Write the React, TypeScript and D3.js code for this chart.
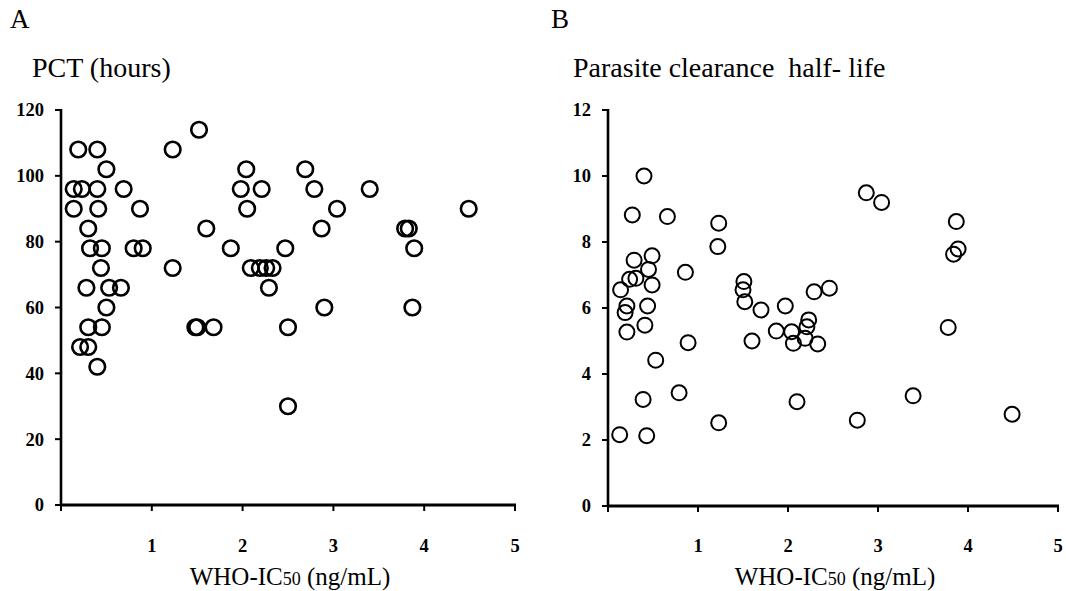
import React from "react";
import * as d3 from "d3";

// Panel A: PCT (hours) vs WHO-IC50
const pctIC50 = [
  0.19, 0.4, 0.5, 0.14, 0.23, 0.4, 0.69, 0.14, 0.41, 0.87, 0.3, 0.32, 0.45, 0.8, 0.9, 0.44,
  0.28, 0.53, 0.66, 0.5, 0.3, 0.45, 0.21, 0.3, 0.4, 1.23, 1.52, 1.23, 1.6, 1.87, 1.48, 1.5,
  1.68, 2.04, 1.98, 2.21, 2.05, 2.09, 2.19, 2.26, 2.33, 2.29, 2.69, 2.79, 3.04, 2.87, 2.47,
  2.9, 2.5, 2.5, 3.4, 4.49, 3.79, 3.83, 3.89, 3.87,
];
const pctHours = [
  108, 108, 102, 96, 96, 96, 96, 90, 90, 90, 84, 78, 78, 78, 78, 72,
  66, 66, 66, 60, 54, 54, 48, 48, 42, 108, 114, 72, 84, 78, 54, 54,
  54, 102, 96, 96, 90, 72, 72, 72, 72, 66, 102, 96, 90, 84, 78,
  60, 54, 30, 96, 90, 84, 84, 78, 60,
];

// Panel B: parasite clearance half-life vs WHO-IC50
const halfLifeIC50 = [
  0.4, 0.27, 0.66, 1.23, 1.22, 0.29, 0.49, 0.45, 0.86, 0.24, 0.31, 0.49, 0.14, 0.21, 0.19,
  0.21, 0.44, 0.41, 0.53, 0.89, 0.39, 0.79, 0.13, 0.43, 1.23, 1.51, 1.5, 1.52, 1.7, 1.6,
  1.97, 1.87, 2.04, 2.06, 2.1, 2.29, 2.46, 2.23, 2.21, 2.19, 2.33, 3.78, 2.77, 3.39, 4.49,
  2.87, 3.04, 3.87, 3.89, 3.84,
];
const halfLifeHours = [
  10.0, 8.82, 8.77, 8.57, 7.86, 7.45, 7.58, 7.17, 7.08, 6.87, 6.9, 6.7, 6.55, 6.06, 5.86,
  5.27, 6.06, 5.48, 4.42, 4.95, 3.23, 3.43, 2.16, 2.13, 2.52, 6.8, 6.55, 6.19, 5.94, 5.0,
  6.06, 5.3, 5.28, 4.93, 3.16, 6.49, 6.6, 5.64, 5.43, 5.08, 4.91, 5.41, 2.6, 3.34, 2.78,
  9.49, 9.2, 8.62, 7.79, 7.63,
];

const xTicks = [0, 1, 2, 3, 4, 5];
const xTickLabels = ["", "1", "2", "3", "4", "5"];
const pctTicks = [0, 20, 40, 60, 80, 100, 120];
const halfLifeTicks = [0, 2, 4, 6, 8, 10, 12];

const serif = "'Liberation Serif', 'Times New Roman', serif";

type PanelProps = {
  letter: string;
  title: string;
  xs: number[];
  ys: number[];
  yTicks: number[];
  yMax: number;
  x0: number;
  x1: number;
  yTop: number;
  yBottom: number;
  left: number;
  r: number;
  sw: number;
};

function Panel({ letter, title, xs, ys, yTicks, yMax, x0, x1, yTop, yBottom, left, r, sw }: PanelProps) {
  const x = d3.scaleLinear().domain([0, 5]).range([x0, x1]);
  const y = d3.scaleLinear().domain([0, yMax]).range([yBottom, yTop]);
  const axisW = 2.6;
  return (
    <g fontFamily={serif} fill="#000">
      <text x={left} y={28} fontSize={27}>{letter}</text>
      <text x={left + 22} y={77} fontSize={28} style={{ whiteSpace: "pre" }}>{title}</text>

      {/* y axis */}
      <line x1={x0} x2={x0} y1={yTop - 1} y2={yBottom + 1} stroke="#000" strokeWidth={axisW} />
      {yTicks.map((t) => (
        <g key={t}>
          <line x1={x0 - 6} x2={x0} y1={y(t)} y2={y(t)} stroke="#000" strokeWidth={2} />
          <text x={x0 - 17} y={y(t)} dy="0.35em" textAnchor="end" fontSize={18.5} fontWeight="bold">
            {t}
          </text>
        </g>
      ))}

      {/* x axis */}
      <line x1={x0 - 1} x2={x1 + 1} y1={yBottom} y2={yBottom} stroke="#000" strokeWidth={axisW + 0.4} />
      {xTicks.map((t, i) => (
        <g key={t}>
          <line x1={x(t)} x2={x(t)} y1={yBottom} y2={yBottom + 6} stroke="#000" strokeWidth={2} />
          <text x={x(t)} y={552} textAnchor="middle" fontSize={18.5} fontWeight="bold">
            {xTickLabels[i]}
          </text>
        </g>
      ))}
      <text x={(x0 + x1) / 2 + 2} y={585} textAnchor="middle" fontSize={25}>
        WHO-IC<tspan fontSize={18}>50</tspan> (ng/mL)
      </text>

      {xs.map((v, i) => (
        <circle
          key={i}
          cx={x(v)}
          cy={y(ys[i])}
          r={r}
          fill="none"
          stroke="#000"
          strokeWidth={sw}
        />
      ))}
    </g>
  );
}

export default function App() {
  return (
    <svg
      width={1066}
      height={591}
      viewBox="0 0 1066 591"
      style={{ position: "absolute", left: 0, top: 0, background: "#fff" }}
    >
      <rect width={1066} height={591} fill="#fff" />
      <Panel
        letter="A"
        title="PCT (hours)"
        xs={pctIC50}
        ys={pctHours}
        yTicks={pctTicks}
        yMax={120}
        x0={61}
        x1={515}
        yTop={110}
        yBottom={505}
        left={10}
        r={7.8}
        sw={2.6}
      />
      <Panel
        letter="B"
        title={"Parasite clearance  half- life"}
        xs={halfLifeIC50}
        ys={halfLifeHours}
        yTicks={halfLifeTicks}
        yMax={12}
        x0={608}
        x1={1058}
        yTop={110}
        yBottom={506}
        left={551}
        r={7.5}
        sw={2}
      />
    </svg>
  );
}
